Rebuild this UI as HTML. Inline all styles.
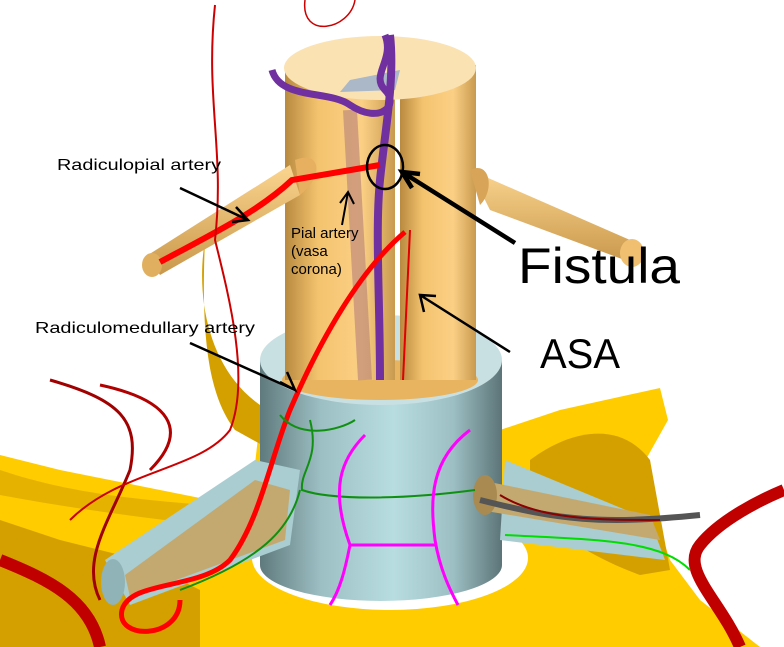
<!DOCTYPE html>
<html><head><style>
html,body{margin:0;padding:0;background:#fff;width:784px;height:647px;overflow:hidden}
svg{display:block}
text{font-family:"Liberation Sans",Arial,sans-serif;fill:#000}
</style></head><body>
<svg width="784" height="647" viewBox="0 0 784 647" xmlns="http://www.w3.org/2000/svg">
<defs>
<linearGradient id="cyl" x1="0" x2="1" y1="0" y2="0">
<stop offset="0" stop-color="#5f7a7d"/><stop offset="0.25" stop-color="#9cbfc3"/><stop offset="0.55" stop-color="#b8dde1"/><stop offset="0.8" stop-color="#9cbfc3"/><stop offset="1" stop-color="#5c7477"/></linearGradient>
<linearGradient id="cord" x1="0" x2="1" y1="0" y2="0">
<stop offset="0" stop-color="#b88a40"/><stop offset="0.3" stop-color="#f4c36e"/><stop offset="0.7" stop-color="#fbd085"/><stop offset="1" stop-color="#c89a50"/></linearGradient>
<linearGradient id="root" x1="0" x2="0" y1="0" y2="1">
<stop offset="0" stop-color="#fbd58f"/><stop offset="1" stop-color="#c9984c"/></linearGradient>
</defs>
<!-- bone -->
<path d="M0 455 L60 470 L160 490 L250 508 L260 420 L500 430 L560 410 L660 388 L668 420 L640 470 L670 560 L700 600 L760 647 L0 647 Z" fill="#ffcc00"/>
<path d="M0 520 L60 540 L140 560 L200 590 L200 647 L0 647 Z" fill="#d4a000"/>
<path d="M205 240 C195 300 210 370 260 405 L262 445 L235 430 C212 400 200 350 205 240 Z" fill="#d4a000"/>
<path d="M530 460 C570 430 620 420 650 460 L670 570 L640 575 C600 560 560 540 530 500 Z" fill="#d4a000"/>
<path d="M0 470 C60 490 120 500 250 508 L250 530 C160 520 80 510 0 495 Z" fill="#d4a000" opacity="0.6"/>
<ellipse cx="390" cy="558" rx="138" ry="52" fill="#fff"/>
<!-- dura cylinder -->
<rect x="260" y="360" width="242" height="205" fill="url(#cyl)"/>
<ellipse cx="381" cy="565" rx="121" ry="36" fill="url(#cyl)"/>
<ellipse cx="381" cy="360" rx="121" ry="45" fill="#c9e0e3"/>
<!-- nerve sleeves -->
<path d="M255 460 L300 470 L290 545 L130 605 L105 560 Z" fill="#a9cdd1"/>
<ellipse cx="113" cy="582" rx="12" ry="23" fill="#8fb3b7"/>
<path d="M505 460 L650 520 L665 560 L500 540 Z" fill="#a9cdd1"/>
<path d="M255 480 L290 490 L285 540 L130 597 L125 575 Z" fill="#c3a970"/>
<path d="M480 480 L650 515 L660 540 L480 510 Z" fill="#c3a970"/>
<ellipse cx="485" cy="495" rx="12" ry="20" fill="#a98a50"/>
<!-- cord -->
<ellipse cx="380" cy="380" rx="98" ry="20" fill="#e8b460"/>
<rect x="285" y="65" width="110" height="315" fill="url(#cord)"/>
<rect x="400" y="65" width="76" height="315" fill="url(#cord)"/>
<ellipse cx="380" cy="68" rx="96" ry="32" fill="#fbe2b3"/>
<path d="M350 80 L400 70 L395 90 L340 92 Z" fill="#aab8c8"/>
<!-- nerve roots -->
<path d="M290 165 L300 195 L160 275 L148 255 Z" fill="url(#root)"/>
<ellipse cx="152" cy="265" rx="10" ry="12" fill="#e0b060"/>
<path d="M470 170 L490 210 L630 262 L630 240 Z" fill="url(#root)"/>
<ellipse cx="632" cy="253" rx="12" ry="14" fill="#f0c070"/>
<path d="M295 160 C320 150 325 175 300 195 Z" fill="#e6b060"/>
<path d="M470 170 C490 160 495 190 480 205 Z" fill="#d8a458"/>
<!-- spinal cord vessels -->
<path d="M350 110 L365 380" stroke="#c08a7a" stroke-width="14" opacity="0.7" fill="none"/>
<path d="M272 70 C280 100 330 90 350 105 C380 125 400 105 385 90 C370 75 395 60 385 35" stroke="#7030a0" stroke-width="7" fill="none"/>
<path d="M390 35 C395 80 385 130 380 180 C375 230 380 300 380 380" stroke="#7030a0" stroke-width="8" fill="none"/>
<!-- red arteries -->
<path d="M160 262 C220 230 260 210 292 180 L380 165" stroke="#ff0000" stroke-width="6" fill="none"/>
<path d="M405 232 C360 270 320 340 290 410 C270 460 260 520 230 560 C200 590 130 580 122 610 C115 640 180 640 180 600" stroke="#ff0000" stroke-width="5" fill="none"/>
<path d="M410 230 L403 380" stroke="#e00000" stroke-width="2" fill="none"/>
<path d="M0 560 C50 580 90 600 100 647" stroke="#c00000" stroke-width="12" fill="none"/>
<path d="M740 647 C720 600 680 570 700 545 C720 520 760 500 784 490" stroke="#c00000" stroke-width="12" fill="none"/>
<path d="M50 380 C120 400 140 420 130 470 C110 520 80 560 100 600" stroke="#a00000" stroke-width="3" fill="none"/>
<path d="M100 385 C170 400 190 430 150 470" stroke="#b00000" stroke-width="3" fill="none"/>
<path d="M215 5 C205 100 225 150 215 240 C230 300 250 380 230 430 C200 470 120 470 70 520" stroke="#cc0000" stroke-width="2" fill="none"/>
<path d="M305 0 C300 40 350 30 355 0" stroke="#cc0000" stroke-width="1.5" fill="none"/>
<path d="M480 500 C560 520 600 525 700 515" stroke="#555" stroke-width="6" fill="none"/>
<path d="M500 495 C540 520 600 520 660 520" stroke="#8b0000" stroke-width="2" fill="none"/>
<!-- green/magenta -->
<path d="M280 415 C300 440 340 430 355 420 M310 420 C320 460 300 470 302 490 C330 500 400 500 475 490 M300 490 C290 530 260 560 180 590" stroke="#109010" stroke-width="2" fill="none"/>
<path d="M505 535 C600 540 660 540 690 570" stroke="#00dd00" stroke-width="2" fill="none"/>
<path d="M365 435 C340 460 330 490 350 545 C345 570 340 590 330 605 M470 430 C430 460 430 500 435 540 C440 570 450 590 458 605 M350 545 L435 545" stroke="#ff00ff" stroke-width="3" fill="none"/>
<!-- fistula circle & arrows -->
<ellipse cx="385" cy="167" rx="18" ry="22" stroke="#000" stroke-width="2.5" fill="none"/>
<path d="M180 188 L248 220 M236 207 L248 220 L232 222" stroke="#000" stroke-width="2.5" fill="none"/>
<path d="M342 225 L348 192 M340 203 L348 192 L354 204" stroke="#000" stroke-width="2" fill="none"/>
<path d="M515 243 L402 172 M420 174 L402 172 L412 188" stroke="#000" stroke-width="4.5" fill="none"/>
<path d="M510 352 L420 295 M424 312 L420 295 L436 296" stroke="#000" stroke-width="2.5" fill="none"/>
<path d="M190 343 L295 390 M280 382 L295 390 L287 372" stroke="#000" stroke-width="2.5" fill="none"/>
<!-- labels -->
<text x="57" y="170" font-size="16" textLength="164" lengthAdjust="spacingAndGlyphs">Radiculopial artery</text>
<text x="291" y="238" font-size="15">Pial artery</text>
<text x="291" y="256" font-size="15">(vasa</text>
<text x="291" y="274" font-size="15">corona)</text>
<text x="518" y="283" font-size="50" textLength="162" lengthAdjust="spacingAndGlyphs">Fistula</text>
<text x="540" y="368" font-size="42" textLength="80" lengthAdjust="spacingAndGlyphs">ASA</text>
<text x="35" y="333" font-size="16" textLength="220" lengthAdjust="spacingAndGlyphs">Radiculomedullary artery</text>
</svg>
</body></html>
